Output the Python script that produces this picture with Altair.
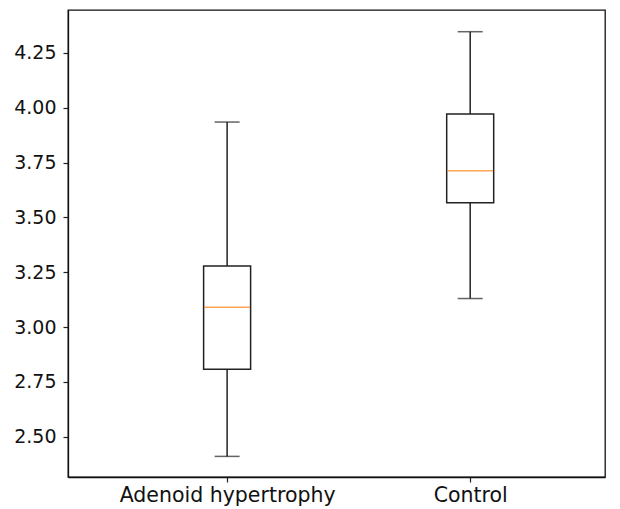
import altair as alt
import pandas as pd

categories = ["Adenoid hypertrophy", "Control"]
whisker_low = [2.41, 3.13]
q1 = [2.807, 3.567]
median = [3.09, 3.713]
q3 = [3.278, 3.972]
whisker_high = [3.935, 4.347]
y_ticks = [2.5, 2.75, 3.0, 3.25, 3.5, 3.75, 4.0, 4.25]

df = pd.DataFrame({
    "category": categories,
    "pos": list(range(1, len(categories) + 1)),
    "lo": whisker_low, "q1": q1, "med": median, "q3": q3, "hi": whisker_high,
})

FONT = "DejaVu Sans"
label_expr = " : ".join(
    [f"datum.value == {i+1} ? '{c}'" for i, c in enumerate(categories)] + ["''"]
)

xscale = alt.Scale(domain=[0.366, 2.534], nice=False, zero=False)
yscale = alt.Scale(domain=[2.316, 4.446], nice=False, zero=False)

x_enc = alt.X("pos:Q", scale=xscale, axis=alt.Axis(
    values=[1, 2], labelExpr=label_expr, title=None, grid=False,
    labelFont=FONT, labelFontSize=20.5, labelColor="#111", tickColor="#222",
    domainColor="#111", domainWidth=1.3, tickSize=5, tickWidth=1.2,
    labelPadding=3, labelLimit=500))
y_axis = alt.Axis(values=y_ticks, format=".2f", title=None, grid=False,
                  labelFont=FONT, labelFontSize=19, labelColor="#111",
                  tickColor="#222", domainColor="#111", domainWidth=1.3,
                  tickSize=5, tickWidth=1.2, labelPadding=7)

base = alt.Chart(df)

whisk_low = base.mark_rule(color="#222", strokeWidth=1.5).encode(
    x=x_enc, y=alt.Y("lo:Q", scale=yscale, axis=y_axis), y2="q1:Q")
whisk_high = base.mark_rule(color="#222", strokeWidth=1.5).encode(
    x="pos:Q", y="q3:Q", y2="hi:Q")
box = base.mark_bar(size=47, fill="white", stroke="#222", strokeWidth=1.5).encode(
    x="pos:Q", y="q1:Q", y2="q3:Q")
med = base.mark_tick(color="#ff7f0e", size=46, thickness=1.5, orient="horizontal").encode(
    x="pos:Q", y="med:Q")
cap_lo = base.mark_tick(color="#222", size=25, thickness=1.5, orient="horizontal").encode(
    x="pos:Q", y="lo:Q")
cap_hi = base.mark_tick(color="#222", size=25, thickness=1.5, orient="horizontal").encode(
    x="pos:Q", y="hi:Q")

chart = alt.layer(whisk_low, whisk_high, box, med, cap_lo, cap_hi).properties(
    width=537, height=467,
    background="white",
    autosize=alt.AutoSizeParams(type="none"),
    padding={"left": 68, "top": 10, "right": 15, "bottom": 32},
).configure_view(stroke="#111", strokeWidth=1.3)

chart.save("out.html", embed_options={"renderer": "svg", "actions": False})
